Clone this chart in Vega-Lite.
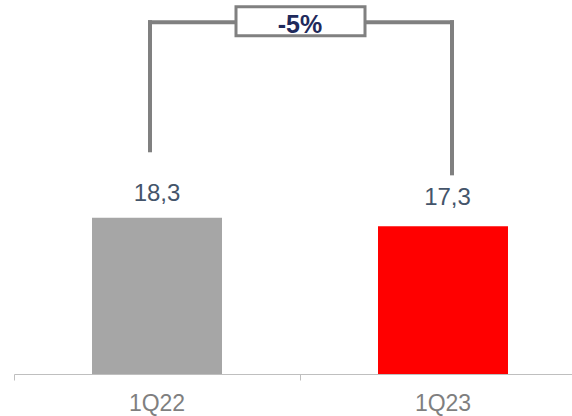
{
  "$schema": "https://vega.github.io/schema/vega-lite/v6.json",
  "width": 572,
  "height": 374,
  "autosize": {"type": "none"},
  "padding": {"left": 0, "top": 0, "right": 0, "bottom": 42},
  "background": "white",
  "config": {"view": {"stroke": null}, "font": "Liberation Sans"},
  "datasets": {
    "bars": [
      {"q": "1Q22", "v": 18.3, "label": "18,3"},
      {"q": "1Q23", "v": 17.3, "label": "17,3"}
    ],
    "bracket": [
      {"q": "1Q22", "top": 41.2, "bottom": 26.2},
      {"q": "1Q23", "top": 41.2, "bottom": 23.5}
    ],
    "growth": [
      {"from": "1Q22", "to": "1Q23", "top": 41.2, "label": "-5%"}
    ]
  },
  "layer": [
    {
      "data": {"name": "bars"},
      "mark": {"type": "bar", "width": {"band": 0.4545}},
      "encoding": {
        "x": {
          "field": "q", "type": "nominal", "sort": null,
          "scale": {"domain": ["1Q22", "1Q23"], "range": [14, 586], "paddingInner": 0, "paddingOuter": 0},
          "axis": {
            "title": null, "bandPosition": 0, "ticks": true, "tickSize": 6,
            "tickColor": "#bfbfbf", "domainColor": "#bfbfbf", "tickWidth": 1, "domainWidth": 1,
            "labelFont": "Liberation Sans", "labelFontSize": 23, "labelColor": "#7f7f7f",
            "labelPadding": 30, "labelBaseline": "alphabetic", "labelAngle": 0, "grid": false
          }
        },
        "y": {"field": "v", "type": "quantitative", "scale": {"domain": [0, 43.8], "nice": false, "zero": true}, "axis": null},
        "color": {"field": "q", "type": "nominal", "scale": {"domain": ["1Q22", "1Q23"], "range": ["#a6a6a6", "#ff0000"]}, "legend": null}
      }
    },
    {
      "data": {"name": "bars"},
      "transform": [{"filter": "datum.q == '1Q22'"}],
      "mark": {"type": "text", "dy": -16.6, "baseline": "alphabetic", "fontSize": 24, "color": "#44546a", "font": "Liberation Sans"},
      "encoding": {
        "x": {"field": "q", "type": "nominal"},
        "y": {"field": "v", "type": "quantitative"},
        "text": {"field": "label"}
      }
    },
    {
      "data": {"name": "bars"},
      "transform": [{"filter": "datum.q == '1Q23'"}],
      "mark": {"type": "text", "dx": 4.5, "dy": -21.7, "baseline": "alphabetic", "fontSize": 24, "color": "#44546a", "font": "Liberation Sans"},
      "encoding": {
        "x": {"field": "q", "type": "nominal"},
        "y": {"field": "v", "type": "quantitative"},
        "text": {"field": "label"}
      }
    },
    {
      "data": {"name": "bracket"},
      "transform": [{"filter": "datum.q == '1Q22'"}],
      "mark": {"type": "rule", "strokeWidth": 4, "color": "#808080", "strokeCap": "square", "xOffset": -7},
      "encoding": {
        "x": {"field": "q", "type": "nominal"},
        "y": {"field": "top", "type": "quantitative"},
        "y2": {"field": "bottom"}
      }
    },
    {
      "data": {"name": "bracket"},
      "transform": [{"filter": "datum.q == '1Q23'"}],
      "mark": {"type": "rule", "strokeWidth": 4, "color": "#808080", "strokeCap": "square", "xOffset": 9},
      "encoding": {
        "x": {"field": "q", "type": "nominal"},
        "y": {"field": "top", "type": "quantitative"},
        "y2": {"field": "bottom"}
      }
    },
    {
      "data": {"name": "growth"},
      "mark": {"type": "rule", "strokeWidth": 4, "color": "#808080", "strokeCap": "square", "xOffset": -7, "x2Offset": 9},
      "encoding": {
        "x": {"field": "from", "type": "nominal", "bandPosition": 0.5},
        "x2": {"field": "to", "bandPosition": 0.5},
        "y": {"field": "top", "type": "quantitative"}
      }
    },
    {
      "data": {"name": "growth"},
      "mark": {"type": "point", "shape": "M-1,-0.2248H1V0.2248H-1Z", "size": 16641, "filled": true, "fill": "white", "stroke": "#808080", "strokeWidth": 3, "opacity": 1, "xOffset": 143.5, "yOffset": -1},
      "encoding": {
        "x": {"field": "from", "type": "nominal"},
        "y": {"field": "top", "type": "quantitative"}
      }
    },
    {
      "data": {"name": "growth"},
      "mark": {"type": "text", "fontWeight": "bold", "fontSize": 25, "color": "#1f2a5c", "baseline": "alphabetic", "dy": 10.3, "xOffset": 143, "font": "Liberation Sans"},
      "encoding": {
        "x": {"field": "from", "type": "nominal"},
        "y": {"field": "top", "type": "quantitative"},
        "text": {"field": "label"}
      }
    }
  ]
}
